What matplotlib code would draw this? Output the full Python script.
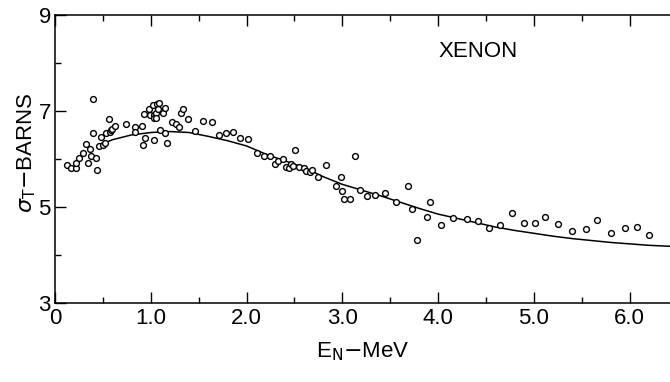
import matplotlib
matplotlib.use('Agg')
import matplotlib.pyplot as plt
import numpy as np
from matplotlib.ticker import MultipleLocator

# measured total cross section points (MeV, barns)
energy = [0.13, 0.17, 0.22, 0.22, 0.25, 0.29, 0.32, 0.34, 0.37, 0.38,
          0.40, 0.40, 0.43, 0.44, 0.46, 0.48, 0.50, 0.52, 0.53, 0.56,
          0.57, 0.58, 0.60, 0.63, 0.74, 0.84, 0.84, 0.91, 0.92, 0.94,
          1.03, 0.93, 0.98, 0.99, 1.02, 1.03, 1.03, 1.05, 1.06, 1.07,
          1.08, 1.09, 1.10, 1.13, 1.15, 1.15, 1.17, 1.22, 1.26, 1.30,
          1.32, 1.34, 1.39, 1.46, 1.55, 1.64, 1.71, 1.79, 1.86, 1.93,
          2.02, 2.11, 2.18, 2.25, 2.30, 2.33, 2.38, 2.41, 2.44, 2.46,
          2.51, 2.49, 2.55, 2.60, 2.62, 2.66, 2.68, 2.75, 2.83, 2.93,
          2.99, 3.00, 3.02, 3.08, 3.13, 3.18, 3.26, 3.34, 3.45, 3.69,
          3.56, 3.73, 3.78, 3.88, 3.92, 4.03, 4.16, 4.30, 4.42, 4.53,
          4.65, 4.77, 4.90, 5.01, 5.12, 5.25, 5.40, 5.54, 5.66, 5.80,
          5.95, 6.08, 6.20]
sigma = [5.87, 5.81, 5.81, 5.91, 6.01, 6.12, 6.31, 5.91, 6.20, 6.06,
         7.25, 6.54, 6.02, 5.77, 6.26, 6.46, 6.28, 6.33, 6.54, 6.84,
         6.56, 6.60, 6.62, 6.69, 6.72, 6.67, 6.56, 6.69, 6.28, 6.43,
         6.40, 6.94, 7.04, 6.92, 7.13, 6.92, 6.85, 6.95, 6.85, 7.14,
         7.04, 7.17, 6.60, 6.95, 7.06, 6.54, 6.33, 6.76, 6.72, 6.67,
         6.96, 7.04, 6.83, 6.58, 6.79, 6.76, 6.49, 6.54, 6.56, 6.43,
         6.41, 6.13, 6.07, 6.06, 5.89, 5.96, 5.99, 5.84, 5.81, 5.90,
         6.19, 5.85, 5.83, 5.82, 5.74, 5.72, 5.77, 5.63, 5.87, 5.43,
         5.62, 5.33, 5.16, 5.16, 6.06, 5.35, 5.23, 5.25, 5.29, 5.44,
         5.10, 4.95, 4.31, 4.79, 5.10, 4.62, 4.77, 4.74, 4.71, 4.57,
         4.63, 4.87, 4.67, 4.66, 4.79, 4.64, 4.49, 4.54, 4.73, 4.45,
         4.57, 4.59, 4.42]

# calculated curve
curve_e = [0.45, 0.6, 0.8, 1.0, 1.2, 1.4, 1.6, 1.8, 2.0, 2.2, 2.4, 2.6,
           2.8, 3.0, 3.2, 3.4, 3.6, 3.8, 4.0, 4.2, 4.4, 4.6, 4.8, 5.0,
           5.2, 5.4, 5.6, 5.8, 6.0, 6.2, 6.42]
curve_s = [6.27, 6.40, 6.50, 6.55, 6.57, 6.55, 6.47, 6.38, 6.27, 6.10,
           5.96, 5.82, 5.63, 5.47, 5.35, 5.23, 5.10, 4.97, 4.85, 4.76,
           4.67, 4.58, 4.51, 4.45, 4.39, 4.34, 4.30, 4.26, 4.23, 4.20,
           4.18]

xticks = [0, 1, 2, 3, 4, 5, 6]
xlabels = ['0', '1.0', '2.0', '3.0', '4.0', '5.0', '6.0']
yticks = [3, 5, 7, 9]

plt.rcParams['font.family'] = ['Liberation Sans', 'DejaVu Sans']

fig = plt.figure(figsize=(6.7, 3.82), dpi=100)
ax = fig.add_axes([0.082, 0.207, 0.918, 0.754])

ax.plot(curve_e, curve_s, color='black', lw=1.1)
ax.plot(energy, sigma, 'o', mfc='white', mec='black', ms=4.2, mew=1.0, ls='none')

ax.set_xlim(0, 6.42)
ax.set_ylim(3, 9)
ax.set_xticks(xticks)
ax.set_xticklabels(xlabels)
ax.set_yticks(yticks)
ax.xaxis.set_minor_locator(MultipleLocator(0.5))
ax.yaxis.set_minor_locator(MultipleLocator(1))
ax.tick_params(which='major', direction='in', length=8, width=1, labelsize=16,
               top=True, right=False)
ax.tick_params(axis='x', which='major', pad=4)
ax.tick_params(axis='y', which='major', pad=3)
ax.tick_params(which='minor', direction='in', length=4, width=1, top=True, right=False)
ax.spines['right'].set_visible(False)
for s in ['left', 'top', 'bottom']:
    ax.spines[s].set_linewidth(1.1)

ax.set_xlabel(r'E$_\mathrm{N}$$-$MeV', fontsize=16, labelpad=8)
ax.set_ylabel(r'$\sigma_\mathrm{T}$$-$BARNS', fontsize=16, va='center')
ax.yaxis.set_label_coords(-0.046, 0.52)
ax.text(4.0, 8.23, 'XENON', fontsize=16, va='center', ha='left')

fig.savefig('out.png', dpi=100)
